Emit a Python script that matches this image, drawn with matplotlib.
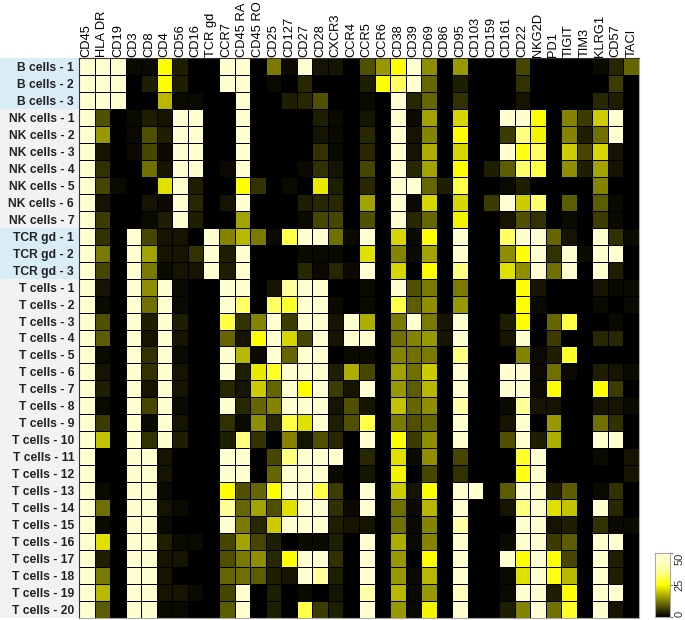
import matplotlib
matplotlib.use("Agg")
import matplotlib.pyplot as plt
from matplotlib.colors import LinearSegmentedColormap
import numpy as np

markers = ["CD45", "HLA DR", "CD19", "CD3", "CD8", "CD4", "CD56", "CD16", "TCR gd",
           "CCR7", "CD45 RA", "CD45 RO", "CD25", "CD127", "CD27", "CD28", "CXCR3", "CCR4",
           "CCR5", "CCR6", "CD38", "CD39", "CD69", "CD86", "CD95", "CD103", "CD159", "CD161",
           "CD22", "NKG2D", "PD1", "TIGIT", "TIM3", "KLRG1", "CD57", "TACI"]

b_cells = [
    [50,50,50,1,1,25,3,0,0,50,50,0,12,1,50,2,2,0,8,15,25,50,14,0,15,0,0,0,7,0,0,0,0,1,4,10],
    [50,50,50,0,3,25,3,0,0,50,50,0,1,0,4,0,0,0,3,25,32,50,10,0,3,0,0,0,5,0,0,0,0,0,6,0],
    [50,50,50,0,0,18,1,1,0,0,50,0,0,3,4,8,0,0,1,0,50,4,10,0,5,0,0,0,2,0,0,0,0,4,3,0],
]
nk_cells = [
    [50,8,0,1,3,2,50,50,0,0,50,0,0,0,0,3,1,0,2,0,50,1,16,0,21,0,0,50,50,25,0,13,6,20,50,0],
    [50,15,0,1,8,3,50,50,0,0,50,0,0,0,0,2,1,0,4,0,50,2,13,0,25,0,0,6,34,24,0,13,3,11,50,0],
    [50,2,0,1,7,1,50,50,0,0,50,0,0,0,0,5,1,0,4,0,50,2,17,0,21,0,0,50,26,32,0,20,7,21,2,0],
    [50,5,0,0,11,2,50,50,0,1,50,0,0,0,1,5,2,0,7,0,50,4,16,0,25,0,3,9,33,30,0,14,3,16,2,0],
    [50,7,1,0,0,22,50,3,0,0,25,5,0,1,0,23,3,0,4,0,50,50,10,3,30,0,0,1,3,0,0,0,0,13,0,0],
    [50,2,0,0,2,1,50,4,0,2,50,0,0,0,3,4,4,0,16,0,50,1,21,0,21,0,6,50,20,33,0,9,0,9,1,0],
    [50,6,0,0,1,3,50,3,0,0,16,0,0,0,1,7,7,0,8,0,50,4,10,0,24,0,0,2,8,5,0,1,0,6,1,0],
]
tcr_gd = [
    [50,5,0,50,7,2,2,0,50,13,18,12,1,30,50,50,11,1,50,0,21,1,25,0,50,0,0,32,50,50,10,2,0,50,5,1],
    [50,12,0,50,16,2,2,5,50,3,50,0,0,0,1,1,1,0,22,0,13,1,16,0,50,0,0,14,25,50,5,50,1,50,50,0],
    [50,7,0,50,12,1,2,2,50,3,50,0,0,0,4,1,4,1,50,0,21,0,25,0,34,0,0,22,14,50,11,50,0,50,3,0],
]
t_cells = [
    [50,2,0,50,14,50,1,0,0,50,50,0,2,36,50,50,0,0,1,0,50,8,12,0,12,0,0,0,25,2,0,0,0,2,1,1],
    [50,1,0,50,11,50,1,0,0,50,32,0,32,28,50,50,1,0,1,0,30,9,14,0,15,0,0,0,25,1,0,0,0,1,0,1],
    [50,8,0,50,3,50,3,0,0,30,5,13,50,6,50,50,2,50,17,0,12,50,12,2,50,0,0,3,25,0,10,30,0,0,1,0],
    [50,9,0,50,2,50,2,0,0,10,2,25,50,21,7,50,2,50,50,0,11,13,15,2,50,0,0,2,50,0,6,0,0,4,4,0],
    [50,1,0,50,5,50,1,0,0,50,18,1,50,10,50,50,0,1,1,0,13,11,12,0,34,0,0,0,13,1,3,28,0,0,0,0],
    [50,2,0,50,5,50,2,0,0,50,3,23,28,50,50,50,3,17,7,0,16,11,20,0,50,0,0,50,50,1,11,1,0,3,2,1],
    [50,3,0,50,2,50,2,0,0,4,2,20,10,50,25,50,6,2,50,0,15,9,18,0,50,0,0,50,50,1,25,0,0,25,6,0],
    [50,1,0,50,7,50,1,0,0,50,4,10,13,50,50,50,2,8,2,0,19,10,14,0,38,0,0,1,36,2,2,0,0,2,2,1],
    [50,6,0,50,1,50,2,0,0,5,1,14,4,30,22,50,3,8,30,0,12,8,10,0,50,0,0,2,50,0,15,0,0,11,5,0],
    [50,19,0,50,5,50,3,0,0,3,34,5,0,13,2,8,4,0,50,0,25,6,14,0,50,0,0,8,50,3,17,0,0,50,50,0],
    [50,0,0,50,50,2,0,0,0,50,50,0,7,34,50,50,50,0,4,0,22,1,14,0,7,0,0,0,28,50,0,0,0,1,0,2],
    [50,0,0,50,50,2,0,0,0,50,50,0,10,50,50,50,1,0,2,0,24,0,7,0,5,0,0,0,26,50,0,0,0,0,0,2],
    [50,1,0,50,50,1,0,0,0,25,8,10,25,50,50,30,6,0,50,0,20,2,25,0,50,50,0,9,50,50,3,9,0,1,5,0],
    [50,11,0,50,50,2,1,0,0,36,10,16,8,22,50,50,5,1,50,0,11,1,18,0,50,0,0,2,34,50,22,19,0,50,4,0],
    [50,1,0,50,50,1,0,0,0,50,12,4,20,50,50,50,3,2,2,0,11,1,13,0,38,0,0,0,50,50,2,3,0,5,1,1],
    [50,22,0,50,50,3,1,1,0,7,16,7,3,0,1,1,3,0,50,0,17,1,13,0,50,0,0,1,50,50,6,9,0,50,50,0],
    [50,3,0,50,50,2,2,0,0,8,12,14,4,25,50,50,5,0,50,0,15,0,25,0,50,0,0,50,25,50,25,7,0,50,3,0],
    [50,12,0,50,50,2,0,0,0,10,11,9,3,2,50,36,3,0,50,0,15,1,18,0,50,0,0,1,22,50,26,18,0,50,3,0],
    [50,18,0,50,50,2,2,1,0,7,50,0,3,0,1,0,2,0,38,0,18,1,15,0,42,0,0,1,50,50,3,25,0,50,50,0],
    [50,9,0,50,50,1,1,0,0,9,50,0,3,0,30,6,3,0,50,0,15,1,24,0,50,0,0,3,13,50,11,28,0,50,2,0],
]

groups = [("B cells", b_cells, "#d9edf7"), ("NK cells", nk_cells, "#f2f2f2"),
          ("TCR gd", tcr_gd, "#d9edf7"), ("T cells", t_cells, "#f2f2f2")]

rows = []
labels = []
band_colors = []
for name, block, col in groups:
    for i, r in enumerate(block):
        rows.append(r)
        labels.append(name + " - " + str(i + 1))
        band_colors.append(col)
data = np.array(rows)

W, H = 685.0, 620.0
cmap = LinearSegmentedColormap.from_list(
    "byw", [(0, "#000000"), (0.5, "#ffff00"), (0.72, "#ffff99"), (0.9, "#ffffcc"), (1, "#ffffd0")])

fig = plt.figure(figsize=(6.85, 6.2), dpi=100)
ax = fig.add_axes([79 / W, 1 - 618 / H, 560 / W, 560 / H])
ax.pcolormesh(data, cmap=cmap, vmin=0, vmax=50, edgecolors="#000000", linewidth=0.45)
ax.set_xlim(0, len(markers))
ax.set_ylim(len(labels), 0)

ax.xaxis.tick_top()
ax.set_xticks(np.arange(len(markers)) + 0.5)
ax.set_xticklabels(markers, rotation=90, fontsize=9.3, family="Liberation Sans", color="#000000")
ax.set_yticks(np.arange(len(labels)) + 0.5)
ax.set_yticklabels(labels, fontsize=8.7, family="Liberation Sans", fontweight="bold", color="#222222")
ax.tick_params(length=0, pad=1)
ax.tick_params(axis="y", pad=3.5)
for side in ["top", "left"]:
    ax.spines[side].set_color("#333333")
for side in ["right", "bottom"]:
    ax.spines[side].set_color("#aaaaaa")

# coloured bands behind the row labels
back = fig.add_axes([0, 1 - 618 / H, 79 / W, 560 / H], zorder=-1)
for i, col in enumerate(band_colors):
    back.barh(i + 0.5, 1, height=1, color=col, linewidth=0)
back.set_xlim(0, 1)
back.set_ylim(len(labels), 0)
back.axis("off")

# colour key
cax = fig.add_axes([655 / W, 1 - 617 / H, 15 / W, 64 / H])
key = np.linspace(0, 50, 100).reshape(-1, 1)
cax.imshow(key, cmap=cmap, vmin=0, vmax=50, origin="lower", aspect="auto", extent=[0, 1, 0, 50])
cax.set_xticks([])
cax.yaxis.tick_right()
cax.set_yticks([0, 25, 50])
tick_text = cax.set_yticklabels(["0", "25", "50"], rotation=90, fontsize=8, family="Liberation Sans")
tick_text[0].set_va("bottom")
tick_text[1].set_va("center")
tick_text[2].set_va("top")
cax.tick_params(length=2, pad=1, color="#888888", labelcolor="#333333")
for s in cax.spines.values():
    s.set_color("#aaaaaa")

plt.savefig("out.png", dpi=100)
